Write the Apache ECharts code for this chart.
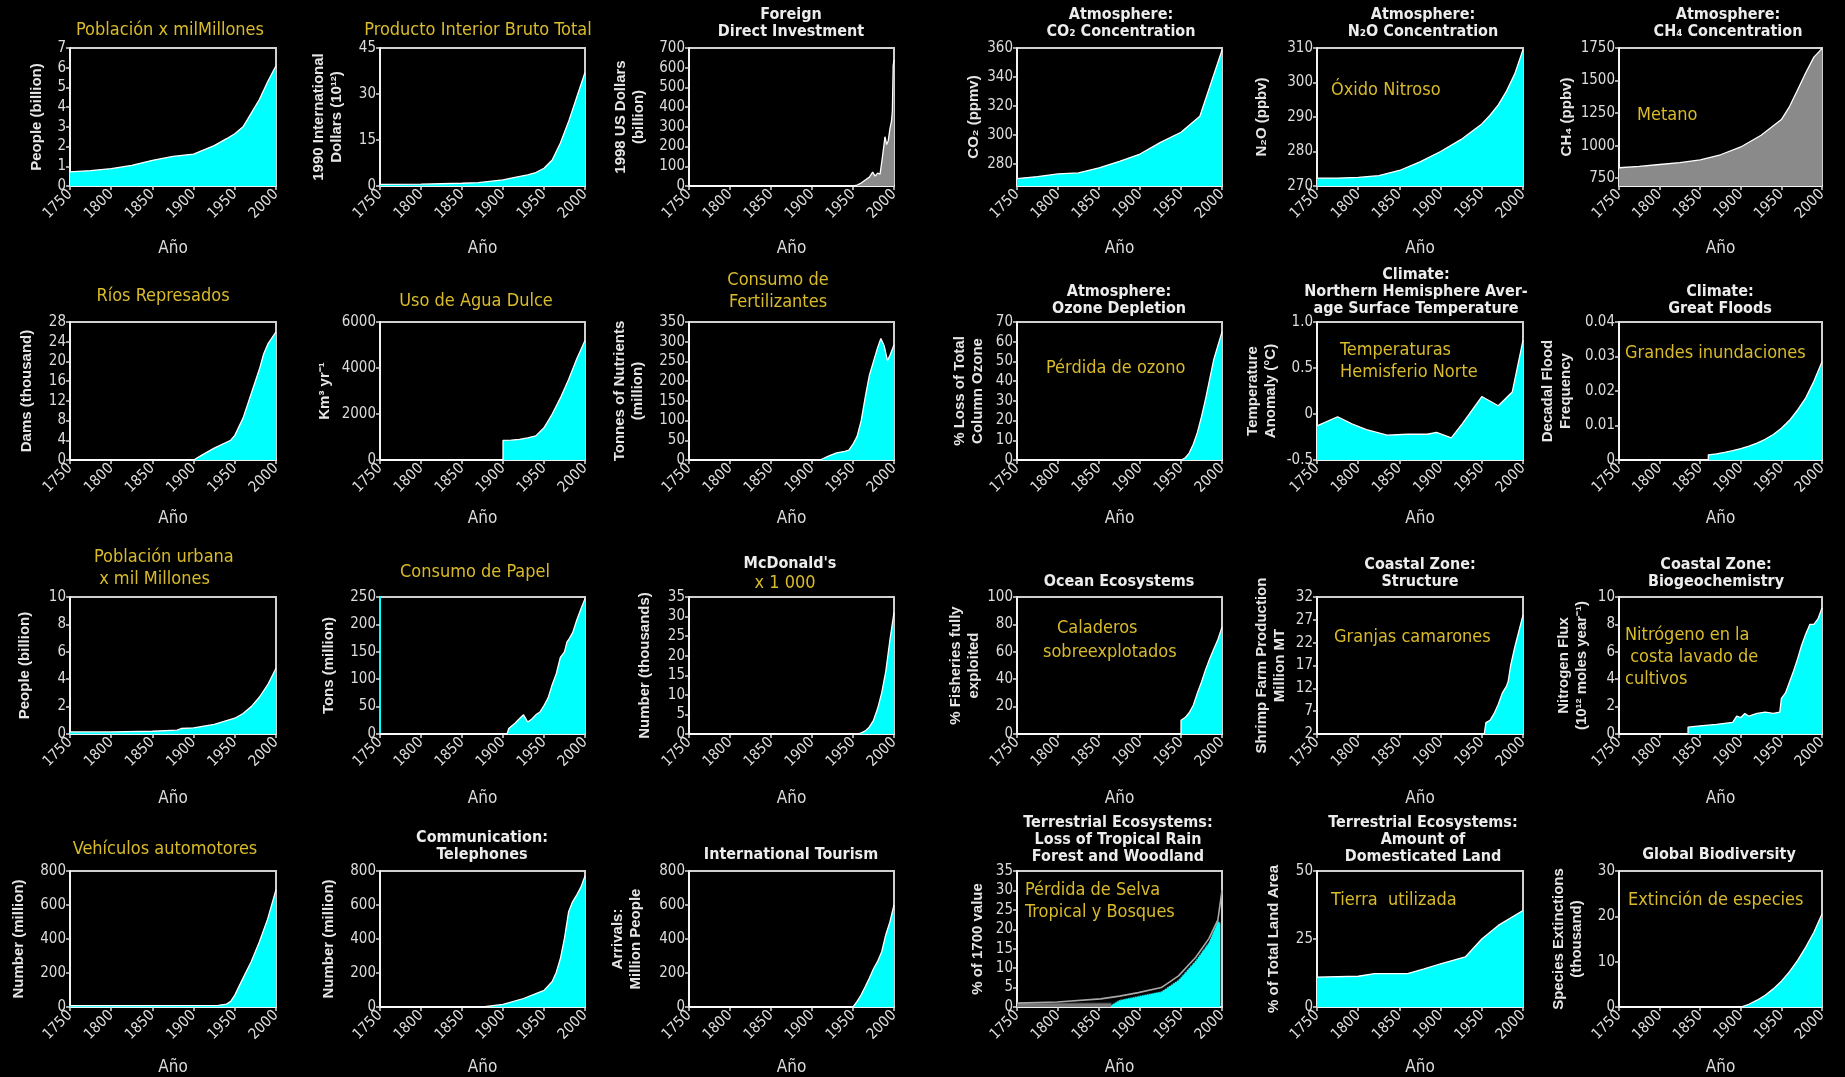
<!DOCTYPE html>
<html><head><meta charset="utf-8">
<script src="https://cdn.jsdelivr.net/npm/echarts@6/dist/echarts.min.js"></script>
<style>html,body{margin:0;padding:0;background:#000;overflow:hidden}#c{width:1845px;height:1077px}</style>
</head><body><div id="c"></div>
<script>
// ---------------- DATA ----------------
const xTicks = [1750, 1800, 1850, 1900, 1950, 2000];

const popYears = [1750,1775,1800,1825,1850,1875,1900,1925,1940,1950,1960,1970,1980,1990,2000];
const popVals  = [0.72,0.78,0.88,1.05,1.3,1.5,1.62,2.05,2.4,2.65,3.0,3.7,4.4,5.3,6.1];
const popTicks = [0,1,2,3,4,5,6,7];

const gdpYears = [1750,1800,1850,1870,1900,1913,1930,1940,1950,1960,1970,1980,1990,2000];
const gdpVals  = [0.5,0.6,0.9,1.1,2.0,2.7,3.6,4.4,5.8,8.5,14,21,29,37];
const gdpTicks = [0,15,30,45];

const fdiYears = [1750,1950,1955,1960,1965,1970,1974,1977,1980,1983,1986,1989,1991,1993,1995,1997,1998,1999,2000];
const fdiVals  = [0,0,5,15,30,45,70,50,65,60,150,250,210,230,290,330,380,610,640];
const fdiTicks = [0,100,200,300,400,500,600,700];

const co2Years = [1750,1775,1800,1825,1850,1875,1900,1925,1950,1973,2000];
const co2Vals  = [270.1,271.5,273.3,274,277.5,282,287,295,302,313,358.5];
const co2Ticks = [280,300,320,340,360];

const n2oYears = [1750,1775,1800,1825,1850,1875,1900,1925,1950,1960,1970,1980,1990,2000];
const n2oVals  = [272.3,272.3,272.5,273,274.5,277,280,283.5,288,290.5,293.5,297.5,302.5,309.5];
const n2oTicks = [270,280,290,300,310];

const ch4Years = [1750,1775,1800,1825,1850,1875,1900,1925,1950,1960,1970,1980,1990,2000];
const ch4Vals  = [830,840,855,870,890,930,990,1080,1200,1300,1430,1560,1680,1745];
const ch4Ticks = [750,1000,1250,1500,1750];

const damYears = [1750,1900,1910,1925,1945,1950,1960,1970,1980,1985,1990,2000];
const damVals  = [0,0,1.0,2.4,4.0,5.0,8.5,13.5,18.5,21.5,23.5,26];
const damTicks = [0,4,8,12,16,20,24,28];

const waterYears = [1750,1900,1900,1910,1920,1930,1940,1950,1960,1970,1980,1990,2000];
const waterVals  = [0,0,850,860,900,960,1050,1400,2000,2700,3500,4400,5200];
const waterTicks = [0,2000,4000,6000];

const fertYears = [1750,1910,1915,1920,1930,1940,1945,1950,1955,1960,1965,1970,1975,1980,1984,1988,1992,1995,2000];
const fertVals  = [0,0,5,10,18,22,25,40,60,100,160,215,250,285,308,290,252,265,292];
const fertTicks = [0,50,100,150,200,250,300,350];

const ozoneYears = [1750,1950,1955,1960,1965,1970,1975,1980,1985,1990,1995,2000];
const ozoneVals  = [0,0,1,3.5,8,14,22,31,41,51,58,65];
const ozoneTicks = [0,10,20,30,40,50,60,70];

const tempYears = [1750,1775,1793,1810,1835,1860,1884,1895,1913,1926,1950,1970,1987,2000];
const tempVals  = [-0.13,-0.03,-0.11,-0.17,-0.23,-0.22,-0.22,-0.2,-0.26,-0.11,0.19,0.09,0.24,0.8];
const tempTicks = [-0.5,0,0.5,1];
const tempTickLabels = ['-0.5','0','0.5','1.0'];

const floodYears = [1750,1860,1860,1870,1880,1890,1900,1910,1920,1930,1940,1950,1960,1970,1980,1990,2000];
const floodVals  = [0,0,0.0015,0.0018,0.0022,0.0027,0.0033,0.004,0.0049,0.006,0.0074,0.0092,0.0115,0.0145,0.018,0.0228,0.0285];
const floodTicks = [0,0.01,0.02,0.03,0.04];

const urbanYears = [1750,1800,1850,1880,1885,1900,1925,1950,1960,1970,1980,1990,2000];
const urbanVals  = [0.15,0.15,0.2,0.28,0.4,0.45,0.7,1.15,1.5,2.0,2.7,3.6,4.8];
const urbanTicks = [0,2,4,6,8,10];

const paperYears = [1750,1905,1907,1915,1920,1925,1930,1935,1940,1945,1950,1955,1960,1965,1970,1975,1978,1980,1985,1990,1995,2000];
const paperVals  = [0,0,10,20,28,35,22,27,35,40,52,66,90,110,140,150,168,172,185,208,228,247];
const paperTicks = [0,50,100,150,200,250];

const mcdYears = [1750,1955,1960,1965,1970,1975,1980,1985,1990,1995,2000];
const mcdVals  = [0,0,0.3,0.8,1.8,3.5,6.5,10.5,16,24,31];
const mcdTicks = [0,5,10,15,20,25,30,35];

const fishYears = [1750,1950,1950,1955,1960,1965,1970,1975,1980,1985,1990,1995,2000];
const fishVals  = [0,0,10,12,15.5,21,30,38,47,55,62,69,78];
const fishTicks = [0,20,40,60,80,100];

const shrimpYears = [1750,1953,1955,1960,1965,1970,1975,1980,1982,1985,1990,1995,2000];
const shrimpVals  = [2,2,4.5,5,6.5,8.5,11,12.5,13.5,17,21,24.5,28];
const shrimpTicks = [2,7,12,17,22,27,32];

const nitroYears = [1750,1835,1835,1850,1870,1890,1895,1900,1905,1910,1920,1930,1940,1948,1950,1955,1960,1965,1970,1975,1980,1985,1990,1995,2000];
const nitroVals  = [0,0,0.5,0.6,0.7,0.85,1.3,1.2,1.5,1.3,1.5,1.6,1.5,1.6,2.6,3.0,3.8,4.6,5.5,6.5,7.3,8.0,8.0,8.4,9.2];
const nitroTicks = [0,2,4,6,8,10];

const vehYears = [1750,1930,1940,1945,1950,1960,1970,1980,1990,2000];
const vehVals  = [8,10,17,33,70,170,268,385,520,690];
const vehTicks = [0,200,400,600,800];

const telYears = [1750,1875,1900,1925,1950,1960,1965,1970,1975,1980,1985,1990,1995,2000];
const telVals  = [0,0,15,50,98,150,205,285,405,560,620,660,705,770];
const telTicks = [0,200,400,600,800];

const tourYears = [1750,1950,1955,1960,1965,1970,1975,1980,1985,1990,1995,2000];
const tourVals  = [0,0,33,72,120,170,225,268,325,425,500,600];
const tourTicks = [0,200,400,600,800];

const forestYears = [1750,1799,1852,1875,1898,1926,1947,1968,1984,1995,2000];
const forestVals  = [1.0,1.3,2.1,2.8,3.7,5,8,12.8,17.6,22.4,30];
const forestCyanYears = [1865,1875,1898,1926,1947,1968,1984,1995,1998];
const forestCyanVals  = [0.6,1.8,2.8,4,7,12,16.7,22.4,21.5];
const forestBaseYears = [1750,1865];
const forestBaseVals  = [1,1];
const forestTicks = [0,5,10,15,20,25,30,35];

const landYears = [1750,1800,1820,1860,1880,1900,1930,1950,1970,2000];
const landVals  = [11,11.3,12.3,12.3,14,15.9,18.4,25,30,35.5];
const landTicks = [0,25,50];

const bioYears = [1750,1900,1910,1920,1930,1940,1950,1960,1970,1980,1990,2000];
const bioVals  = [0,0,0.6,1.5,2.6,4.0,5.7,7.8,10.3,13.2,16.5,20.5];
const bioTicks = [0,10,20,30];

// ---------------- STYLE / LAYOUT ----------------
const NARROW = '"Liberation Sans Narrow","Arial Narrow","DejaVu Sans Condensed",sans-serif';
const BOLD = '"Liberation Sans",Arial,sans-serif';
const YELLOW = '#d9bb2b';
const CYAN = '#00ffff';
const GREY = '#8a8a8a';
const colLeft = [70, 380, 689, 1017, 1317, 1619];
const colWidth = [206, 205, 205, 205, 206, 203];
const rowTop = [48, 322, 597, 871];
const rowHeight = [138, 138, 137, 136];
const rowNameGap = [54, 50, 56, 52];

const panels = [
  {name:'People (billion)', gap:24, ys:popYears, vs:popVals, ticks:popTicks},
  {name:'1990 International\nDollars (10¹²)', gap:34, ys:gdpYears, vs:gdpVals, ticks:gdpTicks},
  {name:'1998 US Dollars\n(billion)', gap:41, ys:fdiYears, vs:fdiVals, ticks:fdiTicks, fill:GREY},
  {name:'CO₂ (ppmv)', gap:28, ys:co2Years, vs:co2Vals, ticks:co2Ticks, min:265},
  {name:'N₂O (ppbv)', gap:46, ys:n2oYears, vs:n2oVals, ticks:n2oTicks},
  {name:'CH₄ (ppbv)', gap:43, ys:ch4Years, vs:ch4Vals, ticks:ch4Ticks, min:690, fill:GREY},
  {name:'Dams (thousand)', gap:34, ys:damYears, vs:damVals, ticks:damTicks},
  {name:'Km³ yr⁻¹', gap:46, ys:waterYears, vs:waterVals, ticks:waterTicks},
  {name:'Tonnes of Nutrients\n(million)', gap:42, ys:fertYears, vs:fertVals, ticks:fertTicks},
  {name:'% Loss of Total\nColumn Ozone', gap:30, ys:ozoneYears, vs:ozoneVals, ticks:ozoneTicks},
  {name:'Temperature\nAnomaly (°C)', gap:37, ys:tempYears, vs:tempVals, ticks:tempTicks, labels:tempTickLabels},
  {name:'Decadal Flood\nFrequency', gap:44, ys:floodYears, vs:floodVals, ticks:floodTicks},
  {name:'People (billion)', gap:36, ys:urbanYears, vs:urbanVals, ticks:urbanTicks},
  {name:'Tons (million)', gap:42, ys:paperYears, vs:paperVals, ticks:paperTicks, axisColor:CYAN},
  {name:'Number (thousands)', gap:35, ys:mcdYears, vs:mcdVals, ticks:mcdTicks},
  {name:'% Fisheries fully\nexploited', gap:34, ys:fishYears, vs:fishVals, ticks:fishTicks},
  {name:'Shrimp Farm Production\nMillion MT', gap:28, ys:shrimpYears, vs:shrimpVals, ticks:shrimpTicks},
  {name:'Nitrogen Flux\n(10¹² moles year⁻¹)', gap:28, ys:nitroYears, vs:nitroVals, ticks:nitroTicks},
  {name:'Number (million)', gap:42, ys:vehYears, vs:vehVals, ticks:vehTicks},
  {name:'Number (million)', gap:42, ys:telYears, vs:telVals, ticks:telTicks},
  {name:'Arrivals:\nMillion People', gap:44, ys:tourYears, vs:tourVals, ticks:tourTicks},
  {name:'% of 1700 value', gap:30, ys:forestYears, vs:forestVals, ticks:forestTicks, forest:true},
  {name:'% of Total Land Area', gap:34, ys:landYears, vs:landVals, ticks:landTicks},
  {name:'Species Extinctions\n(thousand)', gap:33, ys:bioYears, vs:bioVals, ticks:bioTicks}
];

// titles: [text, centerX, topY, kind]
const titles = [
  ['Población x milMillones',170,19,'y'],
  ['Producto Interior Bruto Total',478,19,'y'],
  ['Foreign\nDirect Investment',791,6,'w'],
  ['Atmosphere:\nCO₂ Concentration',1121,6,'w'],
  ['Atmosphere:\nN₂O Concentration',1423,6,'w'],
  ['Atmosphere:\nCH₄ Concentration',1728,6,'w'],
  ['Ríos Represados',163,285,'y'],
  ['Uso de Agua Dulce',476,290,'y'],
  ['Consumo de\nFertilizantes',778,269,'y'],
  ['Atmosphere:\nOzone Depletion',1119,283,'w'],
  ['Climate:\nNorthern Hemisphere Aver-\nage Surface Temperature',1416,266,'w'],
  ['Climate:\nGreat Floods',1720,283,'w'],
  ['Consumo de Papel',475,561,'y'],
  ['McDonald\'s',790,555,'w'],
  ['x 1 000',785,572,'y'],
  ['Ocean Ecosystems',1119,573,'w'],
  ['Coastal Zone:\nStructure',1420,556,'w'],
  ['Coastal Zone:\nBiogeochemistry',1716,556,'w'],
  ['Vehículos automotores',165,838,'y'],
  ['Communication:\nTelephones',482,829,'w'],
  ['International Tourism',791,846,'w'],
  ['Terrestrial Ecosystems:\nLoss of Tropical Rain\nForest and Woodland',1118,814,'w'],
  ['Terrestrial Ecosystems:\nAmount of\nDomesticated Land',1423,814,'w'],
  ['Global Biodiversity',1719,846,'w']
];
// annotations: [text, leftX, topY]
const notes = [
  ['Población urbana\n x mil Millones',94,546],
  ['Óxido Nitroso',1331,79],
  ['Metano',1637,104],
  ['Pérdida de ozono',1046,357],
  ['Temperaturas\nHemisferio Norte',1340,339],
  ['Grandes inundaciones',1625,342],
  ['Caladeros',1057,617],
  ['sobreexplotados',1043,641],
  ['Granjas camarones',1334,626],
  ['Nitrógeno en la\n costa lavado de\ncultivos',1625,624],
  ['Pérdida de Selva\nTropical y Bosques',1025,879],
  ['Tierra  utilizada',1331,889],
  ['Extinción de especies',1628,889]
];

// ---------------- BUILD ----------------
const grids = [], xAxes = [], yAxes = [], series = [];
const pairs = (ys, vs) => ys.map((y, k) => [y, vs[k]]);
panels.forEach((p, i) => {
  const r = Math.floor(i / 6), c = i % 6;
  grids.push({left: colLeft[c], top: rowTop[r], width: colWidth[c], height: rowHeight[r],
    show: true, borderColor: '#d0d0d0', borderWidth: 2, backgroundColor: '#000'});
  xAxes.push({gridIndex: i, type: 'value', min: 1750, max: 2000, interval: 50,
    axisLine: {show: true, onZero: false, lineStyle: {color: '#f2f2f2', width: 2}},
    axisTick: {show: true, customValues: xTicks, length: 4, lineStyle: {color: '#dcdcdc', width: 1.5}},
    axisLabel: {customValues: xTicks, rotate: 45, color: '#dcdcdc', fontFamily: NARROW, fontSize: 15, margin: 6,
      formatter: v => String(v)},
    splitLine: {show: false},
    name: 'Año', nameLocation: 'middle', nameGap: rowNameGap[r],
    nameTextStyle: {color: '#dcdcdc', fontFamily: NARROW, fontSize: 17}});
  const t = p.ticks;
  yAxes.push({gridIndex: i, type: 'value', min: p.min !== undefined ? p.min : t[0], max: t[t.length - 1],
    axisLine: {show: true, onZero: false, lineStyle: {color: p.axisColor || '#f2f2f2', width: 2}},
    axisTick: {show: true, customValues: t, length: 4, lineStyle: {color: '#dcdcdc', width: 1.5}},
    axisLabel: {customValues: t, color: '#dcdcdc', fontFamily: NARROW, fontSize: 15, margin: 4,
      formatter: v => p.labels ? p.labels[t.indexOf(v)] : String(v)},
    splitLine: {show: false},
    name: p.name, nameLocation: 'middle', nameGap: p.gap, nameRotate: 90,
    nameTextStyle: {color: '#e6e6e6', fontFamily: BOLD, fontWeight: 'bold', fontSize: 15, lineHeight: 18}});
  const base = {type: 'line', xAxisIndex: i, yAxisIndex: i, symbol: 'none', silent: true, animation: false};
  if (p.forest) {
    series.push(Object.assign({}, base, {data: pairs(forestBaseYears, forestBaseVals),
      lineStyle: {color: '#444', width: 1}, areaStyle: {color: '#777', opacity: 1, origin: 'start'}}));
    series.push(Object.assign({}, base, {data: pairs(forestCyanYears, forestCyanVals),
      lineStyle: {color: '#333', width: 1.2, type: 'dotted'}, areaStyle: {color: CYAN, opacity: 1, origin: 'start'}}));
    series.push(Object.assign({}, base, {data: pairs(p.ys, p.vs),
      lineStyle: {color: '#a8a8a8', width: 1.6}}));
  } else {
    series.push(Object.assign({}, base, {data: pairs(p.ys, p.vs),
      lineStyle: {color: '#ffffff', width: 1.3}, areaStyle: {color: p.fill || CYAN, opacity: 1, origin: 'start'}}));
  }
});

const graphics = [];
titles.forEach(([text, x, y, kind]) => {
  const w = kind === 'w';
  graphics.push({type: 'text', x: x, y: y, silent: true, style: {text: text, align: 'center', verticalAlign: 'top',
    fill: w ? '#ececec' : YELLOW, fontFamily: NARROW, fontWeight: w ? 'bold' : 'normal',
    fontSize: w ? 16 : 18, lineHeight: w ? 17 : 22}});
});
notes.forEach(([text, x, y]) => {
  graphics.push({type: 'text', x: x, y: y, silent: true, style: {text: text, align: 'left', verticalAlign: 'top',
    fill: YELLOW, fontFamily: NARROW, fontSize: 18, lineHeight: 22}});
});

const chart = echarts.init(document.getElementById('c'), null, {renderer: 'canvas'});
chart.setOption({backgroundColor: '#000', animation: false, grid: grids, xAxis: xAxes, yAxis: yAxes, series: series, graphic: graphics});
</script></body></html>
